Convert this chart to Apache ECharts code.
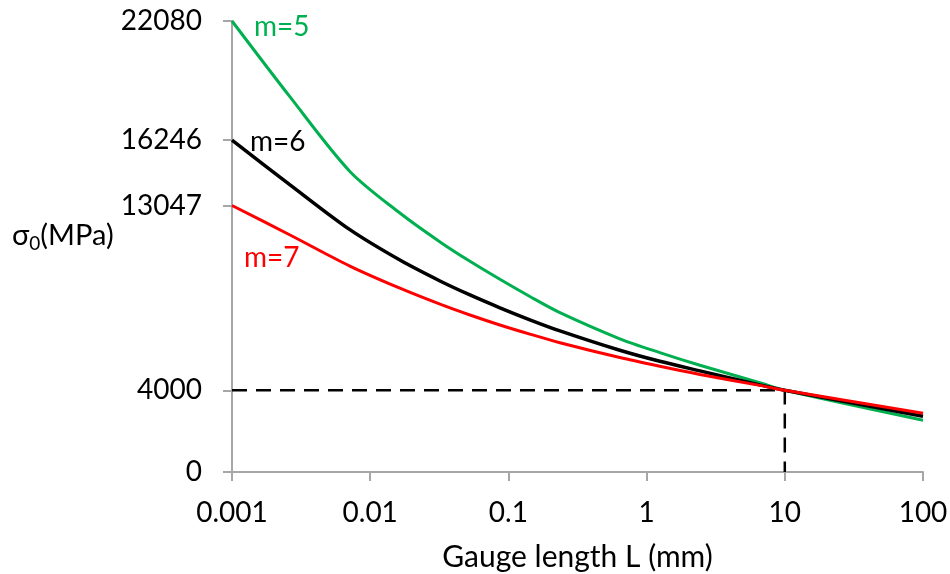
<!DOCTYPE html>
<html>
<head>
<meta charset="utf-8">
<script src="https://cdn.jsdelivr.net/npm/echarts@6/dist/echarts.min.js"></script>
<style>html,body{margin:0;padding:0;background:#fff}#c{width:950px;height:574px}</style>
</head>
<body>
<div id="c"></div>
<script>
// Gauge length L (mm)
const lengths = [0.001, 0.00263, 0.00713, 0.0164, 0.032, 0.0527, 0.0868, 0.143, 0.236, 0.64, 1.246, 2.43, 6.59, 10, 100];
// sigma_0 (MPa) for each Weibull modulus
const m5 = [22080, 18363, 14716, 12678, 11264, 10315, 9435, 8593, 7802, 6522, 5847, 5228, 4368, 4000, 2535];
const m6 = [16246, 14060, 11864, 10375, 9351, 8667, 8039, 7453, 6908, 5959, 5419, 4949, 4265, 4000, 2727];
const m7 = [13047, 11604, 10082, 8998, 8216, 7685, 7197, 6750, 6331, 5605, 5177, 4777, 4242, 4000, 2873];
// reference point (L = 10 mm, sigma_0 = 4000 MPa)
const refL = [0.001, 10, 10];
const refS = [4000, 4000, 0];
// ticks
const yTicks = [0, 4000, 13047, 16246, 22080];
const xTickLabels = ['0.001', '0.01', '0.1', '1', '10', '100'];
const seriesNames = ['m=5', 'm=6', 'm=7'];

const FONT = 'Lato';
const zip = (xs, ys) => xs.map((x, i) => [x, ys[i]]);

const chart = echarts.init(document.getElementById('c'), null, {renderer: 'canvas'});
chart.setOption({
  animation: false,
  backgroundColor: '#fff',
  textStyle: {fontFamily: FONT},
  grid: {left: 232, right: 27, top: 21, bottom: 102, containLabel: false, outerBoundsMode: 'none'},
  xAxis: {
    type: 'log', logBase: 10, min: 0.001, max: 100,
    name: 'Gauge length L (mm)', nameLocation: 'middle', nameGap: 70,
    nameTextStyle: {fontFamily: FONT, fontSize: 30, color: '#000', lineHeight: 30},
    axisLine: {lineStyle: {color: '#A6A6A6', width: 2}},
    axisTick: {show: true, length: 9, lineStyle: {color: '#A6A6A6', width: 2}},
    minorTick: {show: false},
    splitLine: {show: false},
    axisLabel: {
      margin: 27, fontSize: 28, color: '#000', fontFamily: FONT, lineHeight: 28,
      formatter: v => xTickLabels[Math.round(Math.log10(v)) + 3]
    }
  },
  yAxis: {
    type: 'value', min: 0, max: 22080,
    axisLine: {show: true, lineStyle: {color: '#A6A6A6', width: 2}},
    axisTick: {show: true, length: 9, customValues: yTicks, lineStyle: {color: '#A6A6A6', width: 2}},
    splitLine: {show: false},
    axisLabel: {margin: 30, fontSize: 28, color: '#000', fontFamily: FONT, customValues: yTicks,
      formatter: v => String(Math.round(v))}
  },
  series: [
    {type: 'line', data: zip(refL, refS), symbol: 'none', silent: true,
     lineStyle: {color: '#000', width: 2.5, type: [15, 9]}},
    {name: seriesNames[0], type: 'line', data: zip(lengths, m5), symbol: 'none', smooth: 0.3,
     lineStyle: {color: '#00B050', width: 3}},
    {name: seriesNames[1], type: 'line', data: zip(lengths, m6), symbol: 'none', smooth: 0.3,
     lineStyle: {color: '#000000', width: 3.5}},
    {name: seriesNames[2], type: 'line', data: zip(lengths, m7), symbol: 'none', smooth: 0.3,
     lineStyle: {color: '#FF0000', width: 3}}
  ],
  graphic: [
    {type: 'text', left: 254, top: 13, style: {text: seriesNames[0], fill: '#00B050', font: '28px ' + FONT}},
    {type: 'text', left: 250, top: 128, style: {text: seriesNames[1], fill: '#000', font: '28px ' + FONT}},
    {type: 'text', left: 244, top: 244, style: {text: seriesNames[2], fill: '#FF0000', font: '28px ' + FONT}},
    {type: 'text', left: 12, top: 221, style: {
      text: '{a|σ}{b|0}{a|(MPa)}',
      rich: {
        a: {fontFamily: FONT, fontSize: 29, fill: '#000', lineHeight: 36, verticalAlign: 'middle'},
        b: {fontFamily: FONT, fontSize: 19, fill: '#000', lineHeight: 36, verticalAlign: 'bottom'}
      }
    }}
  ]
});
</script>
</body>
</html>
